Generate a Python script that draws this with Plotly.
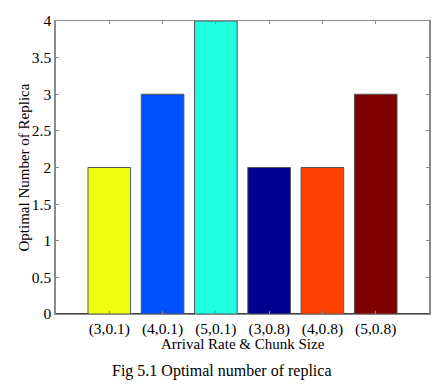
import plotly.graph_objects as go

categories = ["(3,0.1)", "(4,0.1)", "(5,0.1)", "(3,0.8)", "(4,0.8)", "(5,0.8)"]
replicas = [2, 3, 4, 2, 2, 3]
bar_colors = ["#EEFF10", "#0050FF", "#20FFE0", "#000090", "#FF4000", "#800000"]
positions = [1, 2, 3, 4, 5, 6]
y_ticks = [0, 0.5, 1, 1.5, 2, 2.5, 3, 3.5, 4]

FONT = "Liberation Serif, Times New Roman, serif"

fig = go.Figure(go.Bar(
    x=positions, y=replicas, width=0.8,
    marker=dict(color=bar_colors, line=dict(color="#555555", width=1)),
))

fig.update_layout(
    width=443, height=384,
    margin=dict(l=56, r=14, t=21, b=70, autoexpand=False),
    paper_bgcolor="white", plot_bgcolor="white",
    font=dict(family=FONT, size=15, color="black"),
    showlegend=False,
    xaxis=dict(
        range=[0, 7], tickmode="array", tickvals=positions, ticktext=categories,
        showline=True, linecolor="#8a8a8a", linewidth=1, mirror="ticks",
        ticks="inside", ticklen=3, tickcolor="#8a8a8a",
        showgrid=False, zeroline=False, tickfont=dict(size=15.5),
    ),
    yaxis=dict(
        range=[0, 4], tickvals=y_ticks, ticktext=[f"{v:g}" for v in y_ticks],
        showline=True, linecolor="#8a8a8a", linewidth=1.5, mirror="ticks",
        ticks="inside", ticklen=3, tickcolor="#8a8a8a",
        showgrid=False, zeroline=True, zerolinecolor="#454545", zerolinewidth=2,
        tickfont=dict(size=15.5),
    ),
    annotations=[
        dict(text="Arrival Rate & Chunk Size", xref="paper", yref="paper",
             x=0.5, y=0, yshift=-30, xanchor="center", yanchor="middle",
             showarrow=False, font=dict(family=FONT, size=15, color="black")),
        dict(text="Optimal Number of Replica", xref="paper", yref="paper",
             x=0, y=0.5, xshift=-33, textangle=-90, xanchor="center", yanchor="middle",
             showarrow=False, font=dict(family=FONT, size=15, color="black")),
        dict(text="Fig 5.1 Optimal number of replica", xref="paper", yref="paper",
             x=0.445, y=0, yshift=-57, xanchor="center", yanchor="middle",
             showarrow=False, font=dict(family=FONT, size=16, color="black")),
    ],
)

fig.write_html("out.html", config={"displayModeBar": False},
               post_script="document.body.style.margin='0px';")
